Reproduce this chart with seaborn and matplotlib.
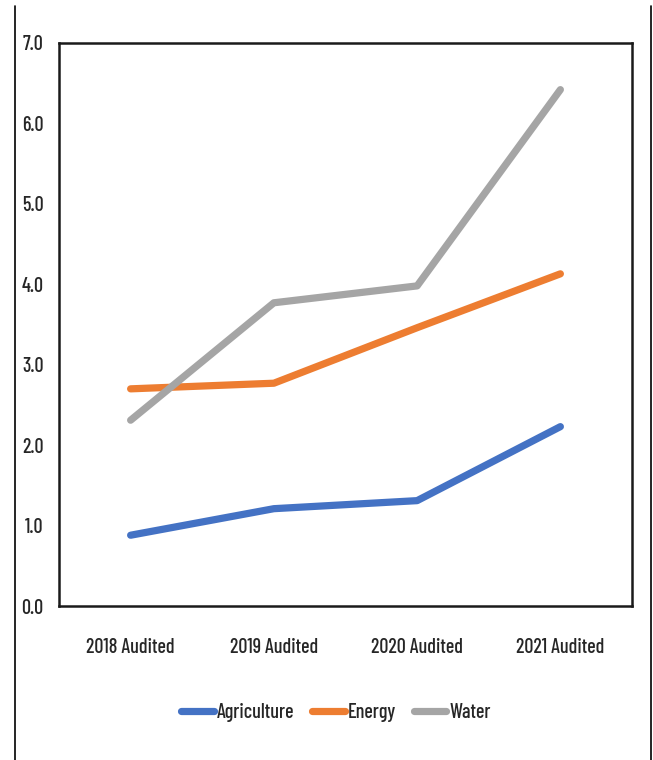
import matplotlib
matplotlib.use("Agg")
import matplotlib.pyplot as plt
from matplotlib.lines import Line2D
import pandas as pd
import seaborn as sns

categories = ["2018 Audited", "2019 Audited", "2020 Audited", "2021 Audited"]
agriculture = [0.88, 1.21, 1.31, 2.23]
energy = [2.70, 2.77, 3.46, 4.13]
water = [2.31, 3.77, 3.98, 6.42]
series_names = ["Agriculture", "Energy", "Water"]
y_ticks = [0.0, 1.0, 2.0, 3.0, 4.0, 5.0, 6.0, 7.0]

colors = {"Agriculture": "#4472C4", "Energy": "#ED7D31", "Water": "#A5A5A5"}

frame = pd.DataFrame({
    "period": categories * 3,
    "value": agriculture + energy + water,
    "series": [s for s in series_names for _ in categories],
})

sns.set_theme(style="white")
font = ["Barlow Condensed", "DejaVu Sans"]
plt.rcParams["font.family"] = font
plt.rcParams["font.weight"] = 500

fig = plt.figure(figsize=(6.53, 7.60), dpi=100)
ax = fig.add_axes([59 / 653, 1 - 606 / 760, 573 / 653, 563 / 760])

sns.lineplot(data=frame, x="period", y="value", hue="series", palette=colors,
             sort=False, linewidth=5.2, ax=ax, legend=False,
             solid_capstyle="round", solid_joinstyle="round")

ax.set_xlim(-0.5, 3.5)
ax.set_ylim(0, 7)
ax.set_yticks(y_ticks)
ax.set_yticklabels([f"{v:.1f}" for v in y_ticks])
ax.set_xlabel("")
ax.set_ylabel("")

for side in ["left", "right", "top", "bottom"]:
    ax.spines[side].set_visible(True)
    ax.spines[side].set_color("#1a1a1a")
    ax.spines[side].set_linewidth(1.8)

ax.tick_params(axis="y", direction="in", length=3, width=1.5, color="#1a1a1a",
               labelsize=14.5, pad=11, labelcolor="#262626")
ax.tick_params(axis="x", length=0, labelsize=14.5, pad=23, labelcolor="#262626")

handles = [Line2D([], [], color=colors[s], linewidth=5.2, solid_capstyle="round")
           for s in series_names]
fig.legend(handles, series_names, loc="center", bbox_to_anchor=(336 / 653, 1 - 713 / 760),
           ncol=3, frameon=False, fontsize=14.5, handlelength=1.6, handletextpad=0.15,
           columnspacing=0.9, labelcolor="#262626")

# outer frame edges
for xf in (15 / 653, 651 / 653):
    fig.add_artist(Line2D([xf, xf], [0, 1 - 6 / 760], color="black", linewidth=1.2,
                          transform=fig.transFigure))

fig.savefig("out.png", dpi=100, facecolor="white")
